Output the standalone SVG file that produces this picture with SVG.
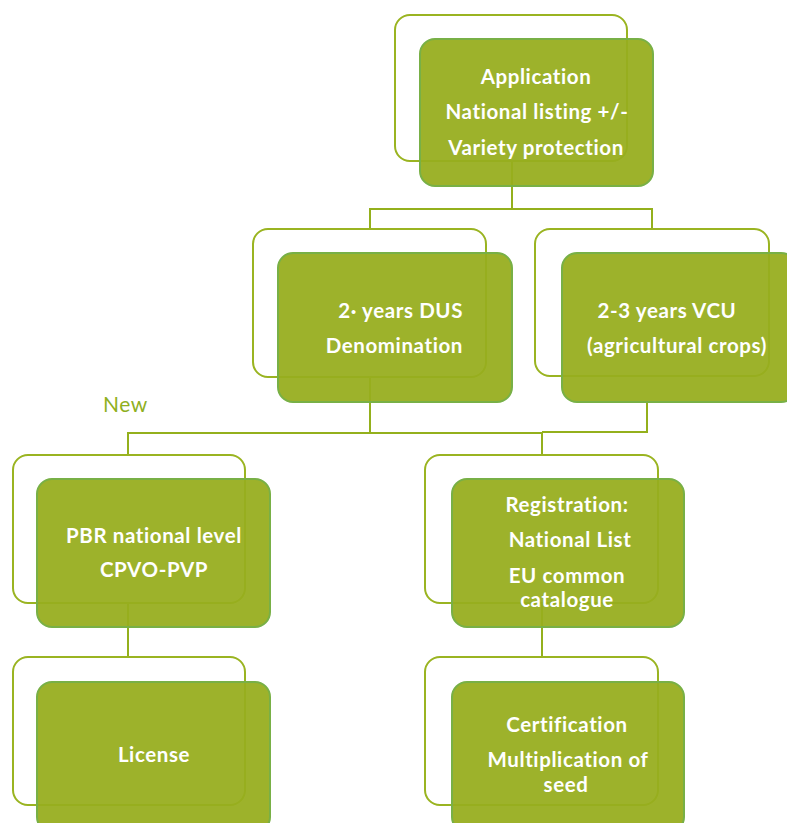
<svg xmlns="http://www.w3.org/2000/svg" width="787" height="823" viewBox="0 0 787 823">
  <style>
    .wire { fill: none; stroke: #94b01c; stroke-width: 2; }
    .frame { fill: none; stroke: #9ab421; stroke-width: 2; }
    .box { fill: #97ad1e; fill-opacity: 0.94; stroke: #78b046; stroke-width: 2; }
    .lbl { font-family: Lato, "Open Sans", "Liberation Sans", sans-serif; font-weight: 700; font-size: 20.5px; letter-spacing: 0.6px; fill: #ffffff; text-anchor: middle; }
    .end { text-anchor: end; }
    .note { font-family: Lato, "Open Sans", "Liberation Sans", sans-serif; font-size: 21px; letter-spacing: 0.5px; fill: #8fb01e; }
  </style>
  <rect width="787" height="823" fill="#ffffff"/>

  <!-- connectors (drawn first, they show through the boxes) -->
  <g id="connectors">
    <path class="wire" d="M512 161 V209 H370 V229"/>
    <path class="wire" d="M512 209 H652 V229"/>
    <path class="wire" d="M370 377 V433 H128 V455"/>
    <path class="wire" d="M370 433 H542 V455"/>
    <path class="wire" d="M647 402 V432 H542"/>
    <path class="wire" d="M128 603 V657"/>
    <path class="wire" d="M542 603 V657"/>
  </g>

  <text class="note" x="103" y="412">New</text>

  <g id="application">
    <rect class="frame" x="395" y="15" width="232" height="146" rx="15"/>
    <rect class="box" x="420" y="39" width="233" height="147" rx="15"/>
    <text class="lbl" x="536" y="84">Application</text>
    <text class="lbl" x="537" y="119">National listing +/-</text>
    <text class="lbl" x="536" y="155">Variety protection</text>
  </g>

  <g id="dus">
    <rect class="frame" x="253" y="229" width="233" height="148" rx="15"/>
    <rect class="box" x="278" y="253" width="234" height="149" rx="15"/>
    <text class="lbl end" x="463" y="318">2· years DUS</text>
    <text class="lbl end" x="463" y="353">Denomination</text>
  </g>

  <g id="vcu">
    <rect class="frame" x="535" y="229" width="234" height="147" rx="15"/>
    <rect class="box" x="562" y="253" width="234" height="149" rx="15"/>
    <text class="lbl" x="667" y="318">2-3 years VCU</text>
    <text class="lbl" x="677" y="353">(agricultural crops)</text>
  </g>

  <g id="pbr">
    <rect class="frame" x="13" y="455" width="232" height="148" rx="15"/>
    <rect class="box" x="37" y="479" width="233" height="148" rx="15"/>
    <text class="lbl" x="154" y="543">PBR national level</text>
    <text class="lbl" x="154" y="577">CPVO-PVP</text>
  </g>

  <g id="registration">
    <rect class="frame" x="425" y="455" width="233" height="148" rx="15"/>
    <rect class="box" x="452" y="479" width="232" height="148" rx="15"/>
    <text class="lbl" x="567" y="512">Registration:</text>
    <text class="lbl" x="570" y="547">National List</text>
    <text class="lbl" x="567" y="583">EU common</text>
    <text class="lbl" x="567" y="607">catalogue</text>
  </g>

  <g id="license">
    <rect class="frame" x="13" y="657" width="232" height="148" rx="15"/>
    <rect class="box" x="37" y="682" width="233" height="150" rx="15"/>
    <text class="lbl" x="154" y="762">License</text>
  </g>

  <g id="certification">
    <rect class="frame" x="425" y="657" width="233" height="148" rx="15"/>
    <rect class="box" x="452" y="682" width="232" height="150" rx="15"/>
    <text class="lbl" x="567" y="732">Certification</text>
    <text class="lbl" x="568" y="767">Multiplication of</text>
    <text class="lbl" x="566" y="792">seed</text>
  </g>
</svg>
